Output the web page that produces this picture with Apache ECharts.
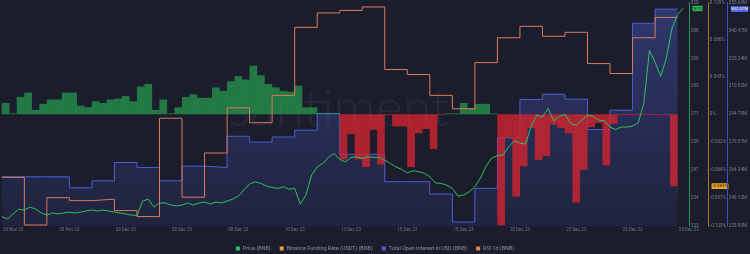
<!DOCTYPE html>
<html><head><meta charset="utf-8">
<script src="https://cdn.jsdelivr.net/npm/echarts@6/dist/echarts.min.js"></script>
<style>html,body{margin:0;padding:0;background:#1b1d2d;}#c{width:750px;height:254px;}</style>
</head><body><div id="c"></div>
<script>
// ---- data (x unit: days since 28 Nov 2023 00:00) ----
const xLabels = ["28 Nov 23","30 Nov 23","03 Dec 23","05 Dec 23","08 Dec 23","10 Dec 23","13 Dec 23","15 Dec 23","18 Dec 23","20 Dec 23","23 Dec 23","25 Dec 23","28 Dec 23"];
const xLabelDays = [0,2.5,5,7.5,10,12.5,15,17.5,20,22.5,25,27.5,30];

const priceStartDay = -0.5, priceStepDays = 0.25;
const price = [226.1,225.1,227.3,229.4,229.0,230.3,229.4,227.7,226.8,227.7,
 227.3,227.7,228.1,227.7,228.1,228.6,229.0,228.6,229.0,228.6,
 228.1,227.7,227.3,226.8,226.6,232.9,233.8,230.3,232.1,232.1,
 231.2,230.8,231.2,232.1,231.2,232.1,232.5,231.6,232.5,232.1,
 232.9,233.8,235.1,237.8,240.4,241.4,240.7,239.5,238.9,238.5,
 239.2,238.1,238.5,231.6,235.6,244.3,247.9,249.4,252.1,253.8,
 251.2,250.1,252.1,252.3,251.6,252.3,252.1,252.1,250.9,249.4,
 247.9,246.8,245.3,246.2,245.8,245.1,243.6,240.9,240.7,239.9,
 238.5,235.1,235.6,237.0,239.2,243.0,248.3,251.8,252.8,253.1,
 256.7,259.3,258.4,257.9,265.8,270.6,269.8,273.6,268.1,270.1,
 271.0,266.9,266.2,268.4,270.6,270.1,268.4,268.1,265.4,264.3,
 265.4,265.4,265.8,267.2,275.7,299.0,293.8,287.6,295.5,308.6,
 314.8,317.4];

const fundingStartDay = -0.5, fundingStepDays = 1/3;
const funding = [0.013,0.001,0.020,0.025,0.005,0.012,0.017,0.017,0.025,0.025,
 0.010,0.008,0.015,0.013,0.017,0.018,0.021,0.015,0.032,0.035,
 0.005,0.017,0.001,0.008,0.020,0.023,0.019,0.019,0.031,0.027,
 0.038,0.044,0.040,0.056,0.045,0.035,0.031,0.027,0.026,0.033,
 0.008,0.008,0.001,0.001,0.001,-0.052,-0.023,-0.052,-0.061,-0.018,
 -0.058,-0.001,-0.014,-0.014,-0.061,-0.022,-0.017,-0.040,-0.001,0.001,
 0.001,0.013,0.007,0.012,0.012,0.001,-0.128,-0.027,-0.095,-0.060,
 -0.016,-0.053,-0.048,-0.012,-0.016,-0.022,-0.102,-0.064,-0.015,-0.010,
 -0.059,-0.011,-0.001,-0.001,-0.001,-0.001,-0.001,-0.001,-0.001,-0.083];

const dailyStartDay = -0.5;
const openInterest = [260.7,260.7,260.7,254.7,258.5,268.5,265.8,258.5,266.5,265.8,
 282.8,279.6,282.4,286.1,295.2,273.0,273.0,258.0,258.0,251.3,
 236.1,254.4,281.9,302.8,305.7,303.0,286.5,297.0,344.4,352.07];
const rsi = [44.8,35.2,40.7,40.1,40.4,38.1,36.9,56.7,40.8,49.7,
 58.8,55.8,61.3,75.0,77.9,78.4,79.1,66.5,65.5,61.3,
 58.6,67.9,72.9,75.2,73.2,74.0,67.7,65.7,72.9,77.0];

const priceTicks = [222,234.25,246.5,258.75,271,283.25,295.5,307.75,320];
const fundingTicks = [-0.129,-0.097,-0.064,-0.032,0,0.043,0.086,0.129];
const oiTicks = [233.89,249.12,264.34,279.57,294.79,310.02,325.24,340.47,355.69];
const rsiRange = [35,80];

// ---- build ----
const FONT = 'Roboto';
const seq = (start, step, arr) => arr.map((v,i)=>[start+i*step, v]);
const daily = arr => { const d = arr.map((v,i)=>[dailyStartDay+i, v]); d.push([dailyStartDay+arr.length, arr[arr.length-1]]); return d; };
const fundingData = funding.map((v,j)=>[fundingStartDay+(j+0.5)*fundingStepDays, v]);

const chart = echarts.init(document.getElementById('c'));
const labelStyle = {fontSize:4.6, color:'#7a7f91', fontFamily:FONT, margin:2};
function yAx(ticks, offset, lineColor, fmt){
  return {type:'value', position:'right', offset, min:ticks[0], max:ticks[ticks.length-1],
    axisLine:{show:true, onZero:false, lineStyle:{color:lineColor, width:1}}, axisTick:{show:false}, splitLine:{show:false},
    axisLabel:Object.assign({customValues:ticks, formatter:fmt}, labelStyle)};
}
const option = {
  backgroundColor:'#1b1d2d',
  animation:false,
  grid:{left:0, right:58, top:2, bottom:28},
  legend:{top:241, left:'center', icon:'rect', itemWidth:4, itemHeight:4, itemGap:9,
    textStyle:{color:'#8a8fa0', fontSize:5.4, fontFamily:FONT, padding:[0,0,0,-2]},
    data:[{name:'Price (BNB)', itemStyle:{color:'#2fc35c'}},
          {name:'Binance Funding Rate (USDT) (BNB)', itemStyle:{color:'#e3a62a'}},
          {name:'Total Open Interest in USD (BNB)', itemStyle:{color:'#4c5ee0'}},
          {name:'RSI 1d (BNB)', itemStyle:{color:'#e8843c'}}]},
  xAxis:{type:'value', min:-0.5, max:30, axisLine:{show:false, onZero:false}, axisTick:{show:false}, splitLine:{show:false},
    axisLabel:{customValues:xLabelDays, formatter:v=>xLabels[xLabelDays.indexOf(v)], fontSize:4.5, color:'#6e7385', fontFamily:FONT, margin:1}},
  yAxis:[
    yAx(priceTicks, 0, '#1f9a4c', v=>String(Math.round(v))),
    yAx(fundingTicks, 19, '#a9772c', v=> v===0 ? '0%' : v.toFixed(3)+'%'),
    yAx(oiTicks, 38, '#3e4fc4', v=>v.toFixed(2)+'M'),
    {type:'value', show:false, position:'right', min:rsiRange[0], max:rsiRange[1],
     axisLine:{show:false, onZero:false}, axisTick:{show:false}, axisLabel:{show:false}, splitLine:{show:false}}
  ],
  series:[
    {name:'Total Open Interest in USD (BNB)', type:'line', step:'end', yAxisIndex:2, z:1, symbol:'none',
     data:daily(openInterest), lineStyle:{color:'#4c5ed8', width:1},
     areaStyle:{origin:'start', color:new echarts.graphic.LinearGradient(0,0,0,1,[{offset:0,color:'rgba(85,105,235,0.48)'},{offset:1,color:'rgba(85,105,235,0.12)'}])}},
    {name:'Binance Funding Rate (USDT) (BNB)', type:'bar', yAxisIndex:1, z:2, barWidth:7.7, data:fundingData,
     itemStyle:{color:p=> p.value[1]>=0 ? 'rgba(40,170,80,0.65)' : 'rgba(210,36,48,0.8)'}},
    {name:'RSI 1d (BNB)', type:'line', step:'end', yAxisIndex:3, z:3, symbol:'none',
     data:daily(rsi), lineStyle:{color:'#d97b5c', width:1}},
    {name:'Price (BNB)', type:'line', yAxisIndex:0, z:4, symbol:'none',
     data:seq(priceStartDay, priceStepDays, price), lineStyle:{color:'#2fc35c', width:1}}
  ]
};
chart.setOption(option);

// ---- badges & watermark ----
function badge(x, y, w, text, bg, fg){
  return {type:'group', x:x, y:y-2.8, z:100, children:[
    {type:'rect', shape:{x:0,y:0,width:w,height:5.6,r:0.6}, style:{fill:bg}},
    {type:'text', x:w/2, y:2.9, style:{text:text, fill:fg, fontSize:4.4, fontFamily:FONT, align:'center', verticalAlign:'middle'}}]};
}
const lastP = price[price.length-1], lastF = funding[funding.length-1], lastOI = openInterest[openInterest.length-1];
const gx = 750-58;
chart.setOption({graphic:[
  {type:'text', x:228, y:109, z:0, silent:true, style:{text:'santiment', fill:'rgba(255,255,255,0.055)', fontSize:52, fontFamily:'Lato', fontWeight:300, verticalAlign:'middle'}},
  badge(gx+0.5, chart.convertToPixel({yAxisIndex:0}, lastP), 10, String(Math.round(lastP)), '#27b552', '#0e1a12'),
  badge(gx+19.5, chart.convertToPixel({yAxisIndex:1}, lastF), 17, lastF.toFixed(3)+'%', '#e3a62a', '#2a1d05'),
  badge(gx+38.8, chart.convertToPixel({yAxisIndex:2}, lastOI), 17.5, lastOI.toFixed(2)+'M', '#5566e0', '#ffffff')
]});
</script></body></html>
